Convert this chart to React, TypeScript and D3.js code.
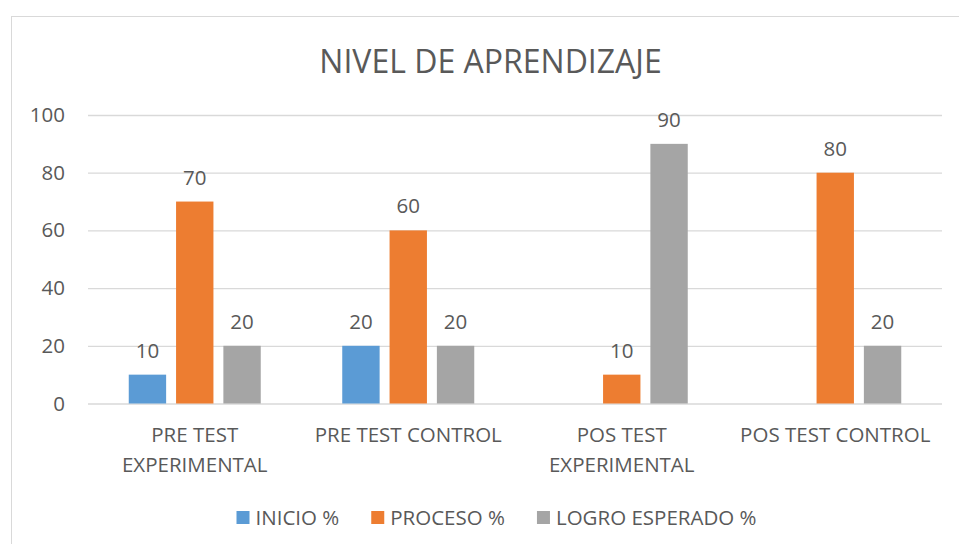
import React, { useEffect, useRef } from "react"
import * as d3 from "d3"

const categories = ["PRE TEST EXPERIMENTAL", "PRE TEST CONTROL", "POS TEST EXPERIMENTAL", "POS TEST CONTROL"]
const seriesNames = ["INICIO %", "PROCESO %", "LOGRO ESPERADO %"]
const inicio = [10, 20, null, null]
const proceso = [70, 60, 10, 80]
const logro = [20, 20, 90, 20]
const yTicks = [0, 20, 40, 60, 80, 100]
const colors = ["#5B9BD5", "#ED7D31", "#A5A5A5"]

const W = 959
const H = 544
const FONT = "'Open Sans', sans-serif"
const TXT = "#595959"
const FS = 20.5

export default function App() {
  const ref = useRef<SVGSVGElement>(null)

  useEffect(() => {
    const svg = d3.select(ref.current)
    svg.selectAll("*").remove()

    const plot = { left: 88, right: 942, top: 115, bottom: 403.5 }
    const series = [inicio, proceso, logro]

    // chart frame (cut off at the right and bottom like the screenshot)
    svg.append("rect")
      .attr("x", 11.5).attr("y", 16.5)
      .attr("width", W).attr("height", H)
      .attr("fill", "#fff").attr("stroke", "#D9D9D9")

    svg.append("text")
      .attr("x", 490.5).attr("y", 73)
      .attr("text-anchor", "middle")
      .attr("font-family", FONT).attr("font-size", 32)
      .attr("fill", TXT)
      .text("NIVEL DE APRENDIZAJE")

    const x = d3.scaleBand<string>()
      .domain(categories)
      .range([plot.left, plot.right])

    const xs = d3.scaleBand<string>()
      .domain(seriesNames)
      .range([-66, 66])
      .paddingInner(0.21)

    const y = d3.scaleLinear().domain([0, 100]).range([plot.bottom, plot.top])

    // y axis + gridlines
    const yAxis = svg.append("g")
      .attr("transform", `translate(${plot.left},0)`)
      .call(d3.axisLeft(y).tickValues(yTicks).tickSize(-(plot.right - plot.left)).tickPadding(23))
    yAxis.select(".domain").remove()
    yAxis.selectAll(".tick line").attr("stroke", "#D9D9D9").attr("stroke-width", 1.3)
    yAxis.selectAll(".tick text")
      .attr("font-family", FONT).attr("font-size", FS).attr("fill", TXT)

    // bars
    series.forEach((vals, si) => {
      const g = svg.append("g")
      const pts = categories.map((c, i) => ({ c, v: vals[i] })).filter(d => d.v != null) as { c: string, v: number }[]
      g.selectAll("rect").data(pts).enter().append("rect")
        .attr("x", d => x(d.c)! + x.bandwidth() / 2 + xs(seriesNames[si])!)
        .attr("width", xs.bandwidth())
        .attr("y", d => y(d.v))
        .attr("height", d => y(0) - y(d.v))
        .attr("fill", colors[si])
      g.selectAll("text").data(pts).enter().append("text")
        .attr("x", d => x(d.c)! + x.bandwidth() / 2 + xs(seriesNames[si])! + xs.bandwidth() / 2)
        .attr("y", d => y(d.v) - 17)
        .attr("text-anchor", "middle")
        .attr("font-family", FONT).attr("font-size", FS).attr("fill", TXT)
        .text(d => d.v)
    })

    // category labels, wrapped to the band width
    const maxW = x.bandwidth() * 0.93
    categories.forEach(c => {
      const t = svg.append("text")
        .attr("text-anchor", "middle")
        .attr("font-family", FONT).attr("font-size", FS).attr("fill", TXT)
      const words = c.split(" ")
      let lines: string[] = []
      let cur = ""
      words.forEach(w => {
        const test = cur ? cur + " " + w : w
        t.text(test)
        if ((t.node() as SVGTextElement).getComputedTextLength() > maxW && cur) {
          lines.push(cur)
          cur = w
        } else cur = test
      })
      lines.push(cur)
      t.text(null)
      lines.forEach((l, i) => {
        t.append("tspan")
          .attr("x", x(c)! + x.bandwidth() / 2)
          .attr("y", 442 + i * 30)
          .text(l)
      })
    })

    // legend
    const leg = svg.append("g")
    let lx = 0
    seriesNames.forEach((s, i) => {
      const it = leg.append("g").attr("transform", `translate(${lx},0)`)
      it.append("rect").attr("x", 0).attr("y", 511).attr("width", 13).attr("height", 13).attr("fill", colors[i])
      const tx = it.append("text")
        .attr("x", 19).attr("y", 525)
        .attr("font-family", FONT).attr("font-size", FS).attr("fill", TXT)
        .text(s)
      lx += 19 + (tx.node() as SVGTextElement).getComputedTextLength() + 32
    })
    const total = lx - 32
    leg.attr("transform", `translate(${496.5 - total / 2},0)`)
  }, [])

  return (
    <svg ref={ref} width={W} height={H}
      style={{ position: "absolute", left: 0, top: 0, display: "block", background: "#fff" }} />
  )
}
